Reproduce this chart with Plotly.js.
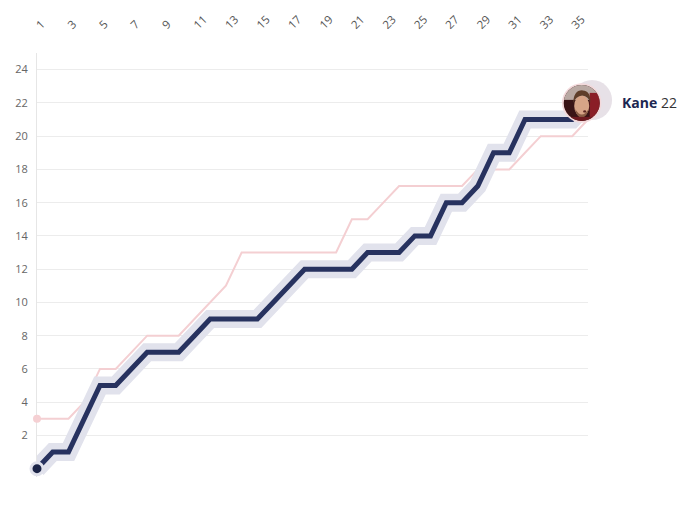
<!DOCTYPE html>
<html>
<head>
<meta charset="utf-8">
<script src="https://cdn.plot.ly/plotly-3.0.1.min.js"></script>
<style>
  html, body { margin: 0; padding: 0; background: #fff; }
  #chart { width: 700px; height: 513px; }
</style>
</head>
<body>
<div id="chart"></div>
<script>
// games played and cumulative goals
var games = [1,2,3,4,5,6,7,8,9,10,11,12,13,14,15,16,17,18,19,20,21,22,23,24,25,26,27,28,29,30,31,32,33,34,35,36];
var kaneGoals = [0,1,1,3,5,5,6,7,7,7,8,9,9,9,9,10,11,12,12,12,12,13,13,13,14,14,16,16,17,19,19,21,21,21,21,22];
var otherGoals = [3,3,3,4,6,6,7,8,8,8,9,10,11,13,13,13,13,13,13,13,15,15,16,17,17,17,17,17,18,18,18,19,20,20,20,21];

var xTicks = [1,3,5,7,9,11,13,15,17,19,21,23,25,27,29,31,33,35];
var yTicks = [2,4,6,8,10,12,14,16,18,20,22,24];

var playerName = 'Kane';

var xRange = [1, 36];
var yRange = [-0.5, 25];
var plotW = 700 - 37 - 112;
var plotH = 513 - 53 - 36;

var last = games.length - 1;

// simple drawn portrait, no network available
var face = "<svg xmlns='http://www.w3.org/2000/svg' width='80' height='80'>" +
  "<defs><clipPath id='c'><circle cx='40' cy='40' r='36'/></clipPath></defs>" +
  "<circle cx='40' cy='40' r='39.5' fill='#f3d9db'/>" +
  "<g clip-path='url(#c)'>" +
  "<rect width='80' height='80' fill='#3a1416'/>" +
  "<rect x='0' y='0' width='80' height='34' fill='#b9a9a3'/>" +
  "<rect x='56' y='20' width='24' height='60' fill='#8a1e26'/>" +
  "<ellipse cx='40' cy='46' rx='15' ry='21' fill='#d7a487'/>" +
  "<path d='M23 40 Q24 14 42 15 Q59 16 57 40 Q54 26 41 25 Q28 26 23 40Z' fill='#5e3e2a'/>" +
  "<path d='M27 52 Q40 74 54 52 Q52 66 40 70 Q28 66 27 52Z' fill='#8a5d45'/>" +
  "<ellipse cx='46' cy='57' rx='3' ry='2.4' fill='#5a2620'/>" +
  "<rect x='14' y='68' width='52' height='14' fill='#6e1a20'/>" +
  "</g></svg>";
var faceSrc = 'data:image/svg+xml;charset=utf-8,' + encodeURIComponent(face);

function toPaperX(v) { return (v - xRange[0]) / (xRange[1] - xRange[0]); }
function toPaperY(v) { return (v - yRange[0]) / (yRange[1] - yRange[0]); }

var otherTrace = {
  x: games, y: otherGoals, mode: 'lines', hoverinfo: 'skip',
  line: {color: '#f4cfd2', width: 2}
};
var otherStart = {
  x: [games[0]], y: [otherGoals[0]], mode: 'markers', hoverinfo: 'skip', cliponaxis: false,
  marker: {color: '#f5d0d3', size: 8}
};
var kaneHalo = {
  x: games, y: kaneGoals, mode: 'lines', hoverinfo: 'skip',
  line: {color: '#e1e2ec', width: 18}
};
var kaneLine = {
  x: games, y: kaneGoals, mode: 'lines', hoverinfo: 'skip',
  line: {color: '#27325f', width: 5}
};
var kaneStart = {
  x: [games[0]], y: [kaneGoals[0]], mode: 'markers', hoverinfo: 'skip', cliponaxis: false,
  marker: {color: '#1b2447', size: 12, line: {color: '#e1e2ec', width: 3}}
};

var data = [otherTrace, otherStart, kaneHalo, kaneLine, kaneStart];

// faded circle behind the portrait
var gx = toPaperX(games[last] + 0.26), gy = toPaperY(kaneGoals[last] + 0.17);
var gr = 20;

var layout = {
  width: 700,
  height: 513,
  margin: {l: 37, r: 112, t: 53, b: 36},
  paper_bgcolor: '#fff',
  plot_bgcolor: '#fff',
  showlegend: false,
  font: {family: 'Open Sans, sans-serif'},
  xaxis: {
    range: xRange, side: 'top', tickvals: xTicks, tickangle: -45,
    showgrid: false, zeroline: false, showline: false,
    ticks: 'outside', ticklen: 16, tickcolor: 'rgba(0,0,0,0)',
    tickfont: {size: 11.5, color: '#555'}, fixedrange: true
  },
  yaxis: {
    range: yRange, tickvals: yTicks, layer: 'below traces',
    gridcolor: '#ececec', gridwidth: 1, zeroline: false,
    showline: true, linecolor: '#e6e6e6', linewidth: 1,
    ticks: 'outside', ticklen: 6, tickcolor: 'rgba(0,0,0,0)',
    tickfont: {size: 11, color: '#666'}, fixedrange: true
  },
  shapes: [{
    type: 'circle', xref: 'paper', yref: 'paper', layer: 'below',
    x0: gx - gr / plotW, x1: gx + gr / plotW,
    y0: gy - gr / plotH, y1: gy + gr / plotH,
    fillcolor: 'rgba(212,200,212,0.55)', line: {width: 0}
  }],
  images: [{
    source: faceSrc, xref: 'paper', yref: 'paper',
    x: toPaperX(games[last] - 0.4), y: toPaperY(kaneGoals[last]),
    sizex: 40 / plotW, sizey: 40 / plotH, xanchor: 'center', yanchor: 'middle',
    sizing: 'stretch', layer: 'above'
  }],
  annotations: [{
    x: games[last], y: kaneGoals[last], xref: 'x', yref: 'y',
    xanchor: 'left', yanchor: 'middle', xshift: 32, showarrow: false,
    text: '<b>' + playerName + '</b> <span style="color:#333">' + kaneGoals[last] + '</span>',
    font: {size: 14, color: '#1c2752', family: 'Open Sans, sans-serif'}
  }]
};

Plotly.newPlot('chart', data, layout, {displayModeBar: false, staticPlot: true});
</script>
</body>
</html>
